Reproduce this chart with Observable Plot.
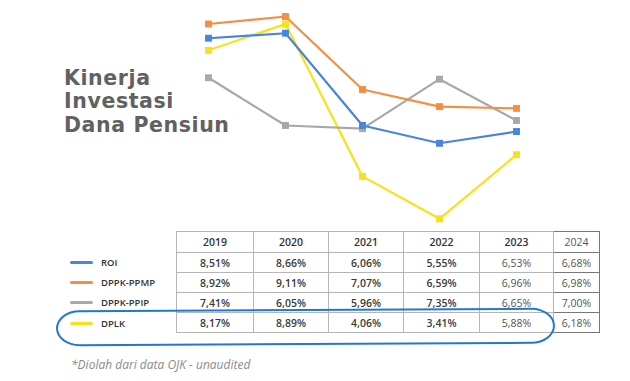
<!DOCTYPE html>
<html>
<head>
<meta charset="utf-8">
<script src="https://cdn.jsdelivr.net/npm/d3@7"></script>
<script src="https://cdn.jsdelivr.net/npm/@observablehq/plot@0.6"></script>
<style>
  html, body { margin: 0; padding: 0; background: #fff; }
  #root { position: relative; width: 630px; height: 381px; overflow: hidden; background: #fff; font-family: "Open Sans", sans-serif; }
  #chart { position: absolute; left: 0; top: 0; }
  #title { position: absolute; left: 64px; top: 67px; font-family: "DejaVu Sans", sans-serif; font-weight: bold; font-size: 20.5px; letter-spacing: 0.6px; line-height: 23.4px; color: #616161; }
  #legend { position: absolute; left: 70px; top: 252px; }
  .lg { height: 20.4px; display: flex; align-items: center; font-size: 9.5px; font-weight: 600; color: #333; }
  .sw { width: 23px; height: 3px; border-radius: 2px; margin-right: 8px; }
  table { position: absolute; left: 176px; top: 231px; border-collapse: collapse; table-layout: fixed; }
  td { border: 1px solid #b5b5b5; text-align: center; font-size: 10.5px; font-weight: 600; color: #3a3a3a; height: 19px; padding: 0; }
  tr.head td { height: 20px; color: #333; }
  tr td.c23 { font-weight: 400; color: #555; }
  tr td.c24 { font-weight: 400; color: #555; border: 1px solid #777; }
  #ring { position: absolute; left: 56px; top: 309px; width: 495px; height: 32px; border: 2.5px solid #1f78d4; border-radius: 26px / 20px; transform: rotate(-0.3deg); }
  #caption { position: absolute; left: 71px; top: 356px; font-size: 12px; font-style: italic; color: #8a8a8a; }
</style>
</head>
<body>
<div id="root">
  <div id="chart"></div>
  <div id="title">Kinerja<br>Investasi<br>Dana Pensiun</div>
  <div id="legend"></div>
  <table id="tbl"></table>
  <div id="ring"></div>
  <div id="caption">*Diolah dari data OJK - unaudited</div>
</div>
<script>
// ---- data ----
const years = ["2019", "2020", "2021", "2022", "2023"];
const tableYears = ["2019", "2020", "2021", "2022", "2023", "2024"];
const seriesNames = ["ROI", "DPPK-PPMP", "DPPK-PPIP", "DPLK"];
const seriesColors = ["#4a84dc", "#f68d45", "#a8a8a8", "#f8e11a"];

// values as plotted in the line chart
const lineROI  = [8.50, 8.64, 6.05, 5.55, 5.88];
const linePPMP = [8.90, 9.11, 7.06, 6.58, 6.53];
const linePPIP = [7.39, 6.05, 5.96, 7.35, 6.19];
const lineDPLK = [8.16, 8.90, 4.62, 3.43, 5.23];

// table values
const tabROI  = ["8,51%", "8,66%", "6,06%", "5,55%", "6,53%", "6,68%"];
const tabPPMP = ["8,92%", "9,11%", "7,07%", "6,59%", "6,96%", "6,98%"];
const tabPPIP = ["7,41%", "6,05%", "5,96%", "7,35%", "6,65%", "7,00%"];
const tabDPLK = ["8,17%", "8,89%", "4,06%", "3,41%", "5,88%", "6,18%"];

// ---- line chart ----
const lineSets = [lineROI, linePPMP, linePPIP, lineDPLK];
const drawOrder = [3, 2, 0, 1];
const rows = drawOrder.flatMap(i => years.map((y, j) => ({series: seriesNames[i], year: y, value: lineSets[i][j]})));

const chart = Plot.plot({
  width: 630,
  height: 230,
  margin: 0,
  x: {type: "point", domain: years, range: [207, 517], padding: 0, axis: null},
  y: {domain: [3.41, 9.11], range: [219, 16], axis: null},
  color: {domain: seriesNames, range: seriesColors},
  marks: [
    ...drawOrder.map(i => Plot.line(rows.filter(d => d.series === seriesNames[i]), {x: "year", y: "value", stroke: "series", strokeWidth: 2.2})),
    ...drawOrder.map(i => Plot.dot(rows.filter(d => d.series === seriesNames[i]), {x: "year", y: "value", fill: "series", symbol: "square", r: 3.9}))
  ]
});
document.getElementById("chart").appendChild(chart);

// ---- legend ----
const legend = document.getElementById("legend");
seriesNames.forEach((s, i) => {
  const row = document.createElement("div");
  row.className = "lg";
  row.innerHTML = `<span class="sw" style="background:${seriesColors[i]}"></span><span>${s}</span>`;
  legend.appendChild(row);
});

// ---- table ----
const tabSets = [tabROI, tabPPMP, tabPPIP, tabDPLK];
const widths = [77, 75, 75, 76, 74, 46];
const tbl = document.getElementById("tbl");
const cg = document.createElement("colgroup");
widths.forEach(w => { const c = document.createElement("col"); c.style.width = w + "px"; cg.appendChild(c); });
tbl.appendChild(cg);
const head = document.createElement("tr");
head.className = "head";
tableYears.forEach((y, j) => {
  const td = document.createElement("td");
  td.textContent = y;
  if (j === 5) td.className = "c24";
  head.appendChild(td);
});
tbl.appendChild(head);
tabSets.forEach(vals => {
  const tr = document.createElement("tr");
  vals.forEach((v, j) => {
    const td = document.createElement("td");
    td.textContent = v;
    if (j === 4) td.className = "c23";
    if (j === 5) td.className = "c24";
    tr.appendChild(td);
  });
  tbl.appendChild(tr);
});
</script>
</body>
</html>
